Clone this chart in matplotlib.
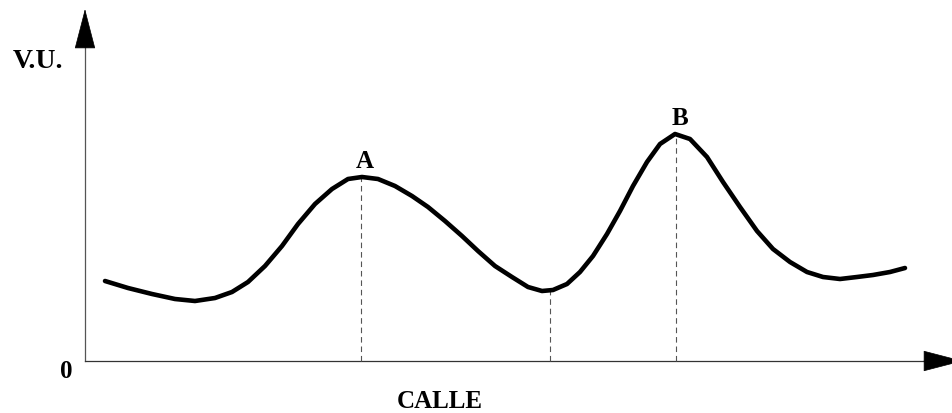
import numpy as np
import matplotlib
matplotlib.use("Agg")
import matplotlib.pyplot as plt

# curva V.U. a lo largo de la calle (x desde el eje, y sobre el eje)
calle = [20, 43, 67, 90, 110, 130, 147, 163, 180, 197, 213, 230, 247, 263,
         277, 293, 310, 327, 343, 360, 377, 393, 410, 427, 443, 457, 468,
         482, 495, 508, 522, 535, 548, 562, 575, 590, 605, 622, 638, 655,
         672, 688, 705, 722, 738, 755, 772, 788, 805, 820]
vu = [80, 73, 67, 62, 60, 63, 69, 79, 95, 115, 137, 157, 172, 182,
      184, 182, 175, 165, 154, 140, 125, 110, 95, 84, 74, 70, 71,
      77, 89, 105, 127, 150, 175, 199, 217, 227, 222, 204, 179, 154,
      130, 112, 99, 89, 84, 82, 84, 86, 89, 93]

# puntos marcados con linea discontinua
marcas_x = [276, 465, 591]
etiquetas = {"A": 276, "B": 591}

fig = plt.figure(figsize=(9.52, 4.14), dpi=100)
ax = fig.add_axes([0, 0, 1, 1])
ax.set_xlim(-85, 867)
ax.set_ylim(-52, 362)
ax.axis("off")

fuente = dict(family=["Liberation Serif", "DejaVu Serif"], fontweight="bold", fontsize=18)

# ejes con flechas
ax.plot([0, 0], [0, 316], color="#555555", lw=0.9)
ax.plot([0, 842], [0, 0], color="#333333", lw=0.9)
ax.annotate("", xy=(0, 352), xytext=(0, 314),
            arrowprops=dict(arrowstyle="-|>,head_length=2.7,head_width=0.7",
                            mutation_scale=10, color="black", lw=0.5,
                            shrinkA=0, shrinkB=0))
ax.annotate("", xy=(878, 0), xytext=(839, 0), annotation_clip=False,
            arrowprops=dict(arrowstyle="-|>,head_length=2.7,head_width=0.7",
                            mutation_scale=10, color="black", lw=0.5,
                            shrinkA=0, shrinkB=0))

# lineas discontinuas
for mx in marcas_x:
    ax.vlines(mx, 0, np.interp(mx, calle, vu), colors="#555555", lw=0.8,
              linestyles=(0, (5, 3.5)))

ax.plot(calle, vu, color="black", lw=3.3, solid_capstyle="round",
        solid_joinstyle="round")

for nombre, px in etiquetas.items():
    ax.text(px + 4, np.interp(px, calle, vu) + 10, nombre, ha="center",
            va="baseline", **fuente)

ax.text(-47, 300, "V.U.", ha="center", va="center",
        **{**fuente, "fontsize": 20})
ax.text(-19, -10, "0", ha="center", va="center", **fuente)
ax.text(355, -40, "CALLE", ha="center", va="center", **fuente)

fig.savefig("out.png", dpi=100)
